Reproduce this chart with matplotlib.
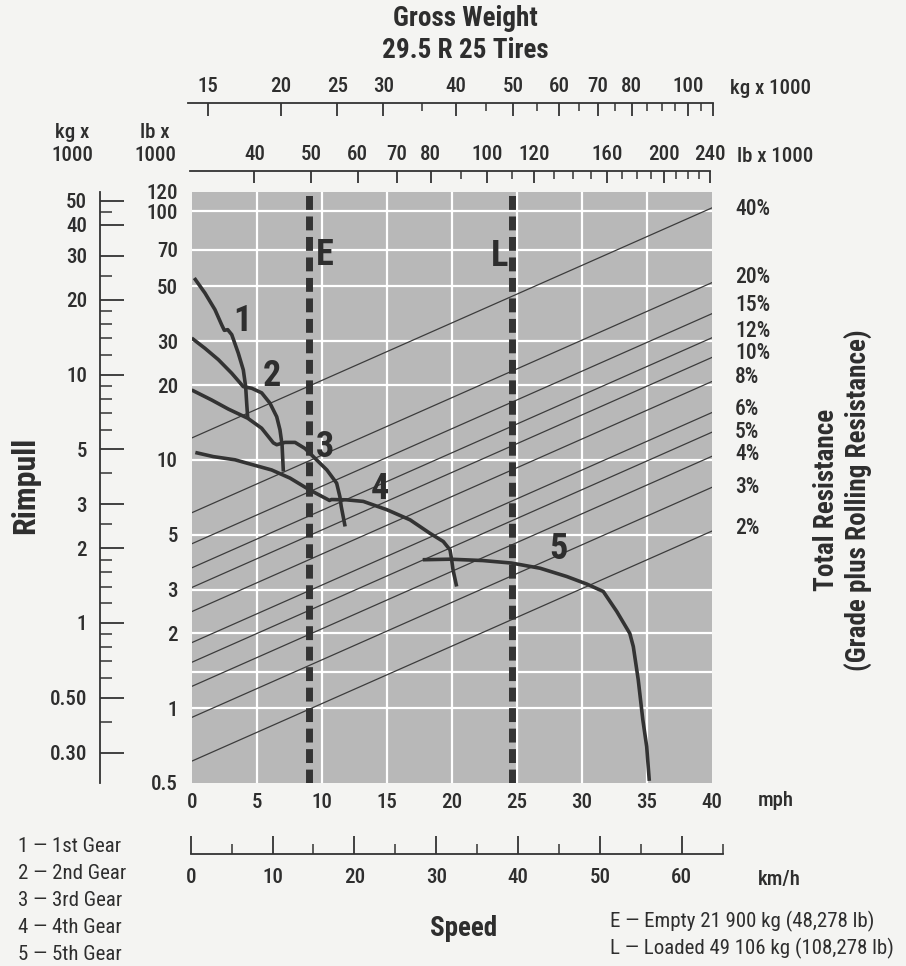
import matplotlib
matplotlib.use("Agg")
import matplotlib.pyplot as plt
import matplotlib.transforms as mtrans
from matplotlib import font_manager as fm
from matplotlib.ticker import FixedLocator, FixedFormatter, NullFormatter

# ---------------- font choice (condensed if available) ----------------
_fonts = fm.fontManager.ttflist
_names = {f.name for f in _fonts}
FONT_STRETCH = 'normal'
if 'Roboto Condensed' in _names:
    FAMILY, SCALE = 'Roboto Condensed', 1.0
elif 'Liberation Sans Narrow' in _names:
    FAMILY, SCALE = 'Liberation Sans Narrow', 1.0
elif any(f.name == 'DejaVu Sans' and 'ondensed' in str(f.stretch) for f in _fonts):
    FAMILY, SCALE, FONT_STRETCH = 'DejaVu Sans', 0.9, 'condensed'
elif 'Liberation Sans' in _names:
    FAMILY, SCALE = 'Liberation Sans', 0.86
else:
    FAMILY, SCALE = 'DejaVu Sans', 0.78
plt.rcParams['font.family'] = [FAMILY, 'DejaVu Sans']
plt.rcParams['font.stretch'] = FONT_STRETCH

# ---------------- data ----------------
speed_ticks_mph = [0, 5, 10, 15, 20, 25, 30, 35, 40]
speed_grid_mph = [5, 10, 15, 20, 25, 30, 35]
rimpull_ticks_lb = [0.5, 1, 2, 3, 5, 10, 20, 30, 50, 70, 100, 120]
rimpull_ticklabels_lb = ["0.5", "1", "2", "3", "5", "10", "20", "30", "50", "70", "100", "120"]
rimpull_grid_lb = [1, 1.4, 2, 3, 5, 10, 20, 30, 50, 70, 100]

rimpull_ticks_kg = [0.3, 0.5, 1, 2, 3, 5, 10, 20, 30, 40, 50]
rimpull_ticklabels_kg = ["0.30", "0.50", "1", "2", "3", "5", "10", "20", "30", "40", "50"]
rimpull_minor_kg = [0.4, 0.6, 0.7, 0.8, 0.9, 1.2, 1.4, 1.6, 1.8, 2.5, 4, 6, 7, 8, 9,
                    12, 14, 16, 18, 25, 45]
LB_TO_KG = 0.4536

gw_kg_ticks = list(range(15, 111, 5))
gw_kg_labels = [15, 20, 25, 30, 40, 50, 60, 70, 80, 100, 110]
gw_kg_ticklabels = ["15", "20", "25", "30", "40", "50", "60", "70", "80", "100", ""]
gw_kg_range = (13.85, 110)
gw_lb_ticks = list(range(40, 241, 10))
gw_lb_labels = [40, 50, 60, 70, 80, 100, 120, 160, 200, 240]
gw_lb_range = (31.0, 240)

kmh_ticks_minor = [5, 15, 25, 35, 45, 55, 65]
kmh_labels = [0, 10, 20, 30, 40, 50, 60]
kmh_range = (0, 65)

resistance_pct = [2, 3, 4, 5, 6, 8, 10, 12, 15, 20, 40]
resistance_label_rp = [5.32, 7.79, 10.57, 12.96, 16.0, 21.6, 27.0, 33.1, 42.1, 54.6, 101.8]
gross_weight_0mph = 30.6    # lb x 1000 at left edge of chart
gross_weight_40mph = 258.0  # lb x 1000 at right edge of chart

empty_mph = 9.05
loaded_mph = 24.6

gear1_mph = [0.2, 1.02, 1.79, 2.31, 2.51, 2.77, 3.08, 3.58, 3.97, 4.15, 4.23, 4.31]
gear1_rp = [53.9, 46.9, 40.2, 34.9, 33.2, 33.4, 31.9, 26.9, 23.0, 19.7, 16.9, 14.7]
gear2_mph = [0.0, 1.02, 2.05, 3.08, 3.97, 4.62, 5.38, 6.02, 6.54, 6.79, 6.95, 7.05]
gear2_rp = [30.9, 28.1, 25.3, 22.3, 19.7, 19.4, 18.6, 16.9, 14.9, 13.2, 11.5, 8.97]
gear3_mph = [0.0, 1.54, 2.82, 4.31, 5.38, 6.28, 6.54, 7.18, 7.95, 8.72, 9.6, 10.4,
             11.15, 11.4, 11.5, 11.8]
gear3_rp = [19.1, 17.4, 16.0, 14.7, 13.4, 11.7, 11.5, 11.75, 11.75, 11.1, 10.0, 9.1,
            8.05, 7.1, 6.5, 5.39]
gear4_mph = [0.28, 1.66, 3.33, 4.23, 6.15, 7.56, 9.0, 10.4, 10.6, 10.75, 11.9, 13.2,
             15.0, 16.8, 18.3, 19.35, 19.87, 20.0, 20.1, 20.38]
gear4_rp = [10.7, 10.3, 10.0, 9.7, 9.1, 8.44, 7.6, 6.95, 6.86, 6.92, 6.9, 6.8,
            6.3, 5.73, 5.07, 4.69, 4.34, 3.95, 3.61, 3.09]
gear5_mph = [17.77, 19.87, 22.4, 24.6, 26.8, 28.85, 30.4, 31.66, 32.7, 33.7, 33.97,
             34.35, 34.7, 35.0, 35.2]
gear5_rp = [3.96, 3.98, 3.93, 3.84, 3.66, 3.39, 3.16, 2.95, 2.45, 2.0, 1.77,
            1.30, 0.90, 0.70, 0.51]
gears = [(gear1_mph, gear1_rp), (gear2_mph, gear2_rp), (gear3_mph, gear3_rp),
         (gear4_mph, gear4_rp), (gear5_mph, gear5_rp)]
gear_names = ["1", "2", "3", "4", "5"]
gear_label_mph = [3.9, 6.2, 10.25, 14.5, 28.2]
gear_label_rp = [36.1, 21.8, 11.3, 7.6, 4.38]

legend_gears = ["1 — 1st Gear", "2 — 2nd Gear", "3 — 3rd Gear", "4 — 4th Gear", "5 — 5th Gear"]
legend_weights = ["E — Empty 21 900 kg (48,278 lb)", "L — Loaded 49 106 kg (108,278 lb)"]

# ---------------- styling / layout ----------------
W_PX, H_PX = 906, 966
BG = '#f4f4f2'
PLOT_BG = '#b8b8b8'
INK = '#333333'
TXT = '#2e2e2e'

TICK_FS = 15 * SCALE
BOLD_FS = 19.5 * SCALE
RIM_FS = 23 * SCALE
BIG_FS = 26 * SCALE
PCT_FS = 15.5 * SCALE
LEG_FS = 15 * SCALE
TICK_W = 'medium'


def fx(px):
    return px / W_PX


def fy(py):
    return 1 - py / H_PX


def box(x0, y0, x1, y1):
    return [fx(x0), fy(y1), (x1 - x0) / W_PX, (y1 - y0) / H_PX]


def weight_labels(axis):
    for lab in axis.get_ticklabels():
        lab.set_fontweight(TICK_W)


fig = plt.figure(figsize=(W_PX / 100, H_PX / 100), dpi=100, facecolor=BG)

# ---- main chart ----
ax = fig.add_axes(box(191.7, 191.7, 711.7, 783))
ax.set_facecolor(PLOT_BG)
ax.set_yscale('log')
ax.set_xlim(0, 40)
ax.set_ylim(0.5, 120)
for s in ax.spines.values():
    s.set_visible(False)
ax.yaxis.set_major_locator(FixedLocator(rimpull_ticks_lb))
ax.yaxis.set_major_formatter(FixedFormatter(rimpull_ticklabels_lb))
ax.yaxis.set_minor_formatter(NullFormatter())
ax.yaxis.set_minor_locator(FixedLocator([]))
ax.set_xticks(speed_ticks_mph)
ax.set_xticklabels([str(v) for v in speed_ticks_mph])
ax.tick_params(axis='both', length=0, labelsize=TICK_FS, colors=TXT)
ax.tick_params(axis='y', pad=10)
ax.tick_params(axis='x', pad=7)
weight_labels(ax.xaxis)
weight_labels(ax.yaxis)

for g in speed_grid_mph:
    ax.axvline(g, color='white', lw=1.6, zorder=1)
for g in rimpull_grid_lb:
    ax.axhline(g, color='white', lw=1.6, zorder=1)

for pct in resistance_pct:
    ax.plot([0, 40], [pct / 100 * gross_weight_0mph, pct / 100 * gross_weight_40mph],
            color='#3c3c3c', lw=0.9, zorder=2)

for mph in (empty_mph, loaded_mph):
    ax.plot([mph, mph], [0.5, 120], color=INK, lw=5.0, dashes=(2.0, 0.95),
            solid_capstyle='butt', dash_capstyle='butt', zorder=4)
ax.text(10.25, 66.9, "E", fontsize=BIG_FS, fontweight='bold', color=TXT,
        ha='center', va='center', zorder=5)
ax.text(23.66, 66.3, "L", fontsize=BIG_FS, fontweight='bold', color=TXT,
        ha='center', va='center', zorder=5)

for (xs, ys) in gears:
    ax.plot(xs, ys, color=INK, lw=2.6, solid_joinstyle='round', solid_capstyle='butt',
            zorder=3)
for name, gx, gy in zip(gear_names, gear_label_mph, gear_label_rp):
    ax.text(gx, gy, name, fontsize=BIG_FS, fontweight='bold', color=TXT,
            ha='center', va='center', zorder=5)

# percent labels on the right
trans_pct = mtrans.blended_transform_factory(fig.transFigure, ax.transData)
for pct, yv in zip(resistance_pct, resistance_label_rp):
    ax.text(fx(735), yv, f"{pct}%", transform=trans_pct, fontsize=PCT_FS, color=TXT,
            fontweight=TICK_W, ha='left', va='center', clip_on=False)

# ---- kg rimpull axis on the left ----
axk = fig.add_axes(box(99.5, 191.7, 140, 783))
axk.set_yscale('log')
axk.set_ylim(0.5 * LB_TO_KG, 120 * LB_TO_KG)
axk.patch.set_visible(False)
for k, s in axk.spines.items():
    s.set_visible(k == 'left')
axk.spines['left'].set_color(INK)
axk.spines['left'].set_linewidth(1.3)
axk.set_xticks([])
axk.yaxis.set_major_locator(FixedLocator(rimpull_ticks_kg))
axk.yaxis.set_major_formatter(FixedFormatter(rimpull_ticklabels_kg))
axk.yaxis.set_minor_locator(FixedLocator(rimpull_minor_kg))
axk.yaxis.set_minor_formatter(NullFormatter())
axk.tick_params(axis='y', which='major', direction='in', length=17, width=1.3,
                color=INK, labelsize=TICK_FS, labelcolor=TXT, pad=9)
axk.tick_params(axis='y', which='minor', direction='in', length=8.5, width=1.1, color=INK)
weight_labels(axk.yaxis)


# ---- top gross weight axes ----
def top_axis(x0, x1, yline, rng, ticks, labels, ticklabels, major_len, minor_len):
    a = fig.add_axes(box(x0, yline, x1, yline + 20))
    a.set_xscale('log')
    a.set_xlim(*rng)
    a.patch.set_visible(False)
    for k, s in a.spines.items():
        s.set_visible(k == 'top')
    a.spines['top'].set_color(INK)
    a.spines['top'].set_linewidth(1.3)
    a.set_yticks([])
    a.xaxis.set_ticks_position('top')
    a.xaxis.set_label_position('top')
    a.xaxis.set_major_locator(FixedLocator(labels))
    a.xaxis.set_major_formatter(FixedFormatter(ticklabels))
    a.xaxis.set_minor_locator(FixedLocator([t for t in ticks if t not in labels]))
    a.xaxis.set_minor_formatter(NullFormatter())
    a.tick_params(axis='x', which='major', direction='in', length=major_len, width=1.3,
                  color=INK, labelsize=TICK_FS, labelcolor=TXT, pad=5)
    a.tick_params(axis='x', which='minor', direction='in', length=minor_len, width=1.1,
                  color=INK)
    weight_labels(a.xaxis)
    return a


top_axis(187.6, 712.5, 103.3, gw_kg_range, gw_kg_ticks, gw_kg_labels,
         gw_kg_ticklabels, 9.6, 6.0)
top_axis(189.7, 710.0, 170.7, gw_lb_range, gw_lb_ticks, gw_lb_labels,
         [str(v) for v in gw_lb_labels], 8.6, 5.5)

# ---- km/h axis ----
axs = fig.add_axes(box(190.7, 829, 722.5, 854))
axs.set_xlim(*kmh_range)
axs.patch.set_visible(False)
for k, s in axs.spines.items():
    s.set_visible(k == 'bottom')
axs.spines['bottom'].set_color(INK)
axs.spines['bottom'].set_linewidth(1.3)
axs.set_yticks([])
axs.xaxis.set_major_locator(FixedLocator(kmh_labels))
axs.xaxis.set_major_formatter(FixedFormatter([str(v) for v in kmh_labels]))
axs.xaxis.set_minor_locator(FixedLocator(kmh_ticks_minor))
axs.xaxis.set_minor_formatter(NullFormatter())
axs.tick_params(axis='x', which='major', direction='in', length=13, width=1.3,
                color=INK, labelsize=TICK_FS, labelcolor=TXT, pad=10)
axs.tick_params(axis='x', which='minor', direction='in', length=7, width=1.1, color=INK)
weight_labels(axs.xaxis)

# ---- texts ----
fig.text(fx(465), fy(19), "Gross Weight", fontsize=BOLD_FS, fontweight='bold',
         color=TXT, ha='center', va='center')
fig.text(fx(465), fy(50), "29.5 R 25 Tires", fontsize=BOLD_FS, fontweight='bold',
         color=TXT, ha='center', va='center')
fig.text(fx(730), fy(88), "kg x 1000", fontsize=TICK_FS, fontweight=TICK_W, color=TXT,
         ha='left', va='center')
fig.text(fx(737), fy(157), "lb x 1000", fontsize=TICK_FS, fontweight=TICK_W, color=TXT,
         ha='left', va='center')
fig.text(fx(72), fy(144), "kg x\n1000", fontsize=TICK_FS, fontweight=TICK_W, color=TXT,
         ha='center', va='center', linespacing=1.3)
fig.text(fx(155), fy(144), "lb x\n1000", fontsize=TICK_FS, fontweight=TICK_W, color=TXT,
         ha='center', va='center', linespacing=1.3)
fig.text(fx(758), fy(801), "mph", fontsize=TICK_FS, fontweight=TICK_W, color=TXT,
         ha='left', va='center')
fig.text(fx(758), fy(879), "km/h", fontsize=TICK_FS, fontweight=TICK_W, color=TXT,
         ha='left', va='center')
fig.text(fx(25), fy(485), "Rimpull", fontsize=RIM_FS, fontweight='bold', color=TXT,
         ha='center', va='center', rotation=90)
fig.text(fx(843), fy(500), "Total Resistance\n(Grade plus Rolling Resistance)",
         fontsize=BOLD_FS, fontweight='bold', color=TXT, ha='center', va='center',
         rotation=90, multialignment='center', linespacing=1.2)
fig.text(fx(464), fy(928), "Speed", fontsize=BOLD_FS, fontweight='bold', color=TXT,
         ha='center', va='center')
for i, t in enumerate(legend_gears):
    fig.text(fx(18), fy(847 + i * 26.8), t, fontsize=LEG_FS, color=TXT, ha='left',
             va='center')
for i, t in enumerate(legend_weights):
    fig.text(fx(610), fy(921 + i * 27), t, fontsize=LEG_FS, color=TXT, ha='left',
             va='center')

fig.savefig("out.png", dpi=100, facecolor=BG)
